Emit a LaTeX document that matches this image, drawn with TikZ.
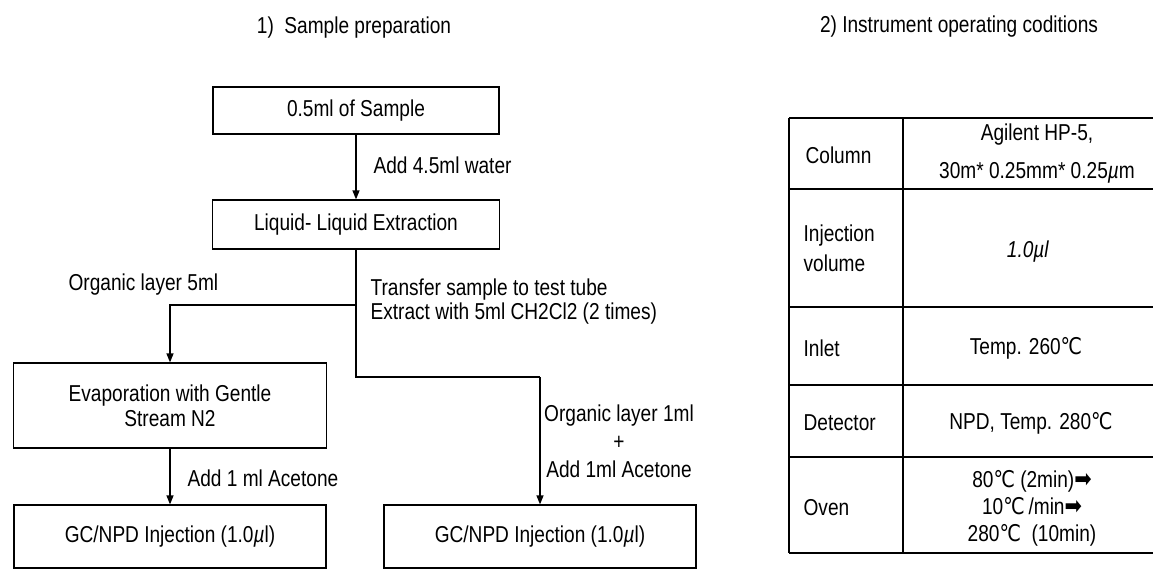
\documentclass[tikz,border=0pt]{standalone}
\usepackage{fontspec}
\setmainfont{Liberation Sans}[FakeStretch=0.83]
\newfontfamily\symf{DejaVu Sans}[FakeStretch=0.83]
\usetikzlibrary{arrows.meta}
\newcommand{\degC}{{\symf ℃}}
\newcommand{\harr}{{\symf\fontsize{25}{25}\selectfont ➡}}
\newcommand{\mul}{\textit{µ}}
\begin{document}
\begin{tikzpicture}[x=1pt,y=-1pt,line width=1.2pt,
  every node/.style={font=\fontsize{23}{24}\selectfont,inner sep=0pt},
  box/.style={draw,rectangle,line width=1.2pt},
  arr/.style={-{Triangle[length=9pt,width=7pt]}},
  tline/.style={line width=1.4pt}]
\useasboundingbox (0,0) rectangle (1153,570);
% titles
\node (t1) at (354,28) {1)\ \ Sample preparation};
\node (t2) at (959,27) {2) Instrument operating coditions};
% flow boxes
\node[box,minimum width=286pt,minimum height=47pt] (A) at (356,110.5) {0.5ml of Sample};
\node[box,minimum width=287pt,minimum height=49pt] (B) at (356,224.5) {Liquid- Liquid Extraction};
\node[box,minimum width=313pt,minimum height=85pt,align=center,font=\fontsize{23}{25}\selectfont] (E) at (170,405.5) {Evaporation with Gentle\\Stream N2};
\node[box,minimum width=312pt,minimum height=63pt] (G1) at (170,536.5) {GC/NPD Injection (1.0\mul l)};
\node[box,minimum width=312pt,minimum height=63pt] (G2) at (540,536.5) {GC/NPD Injection (1.0\mul l)};
% labels
\node[anchor=west] (l1) at (373,165) {Add 4.5ml water};
\node[anchor=west] (l2) at (68,285) {Organic layer 5ml};
\node[anchor=west,align=left] (l3) at (370,302) {Transfer sample to test tube\\Extract with 5ml CH2Cl2 (2 times)};
\node[anchor=west] (l4) at (187,478) {Add 1 ml Acetone};
\node[align=center,font=\fontsize{23}{28}\selectfont] (l5) at (619,441) {Organic layer 1ml\\+\\Add 1ml Acetone};
% connectors
\coordinate (br1) at (356,305);
\coordinate (br1l) at (170,305);
\coordinate (br2) at (356,377);
\coordinate (br2r) at (540,377);
\draw[arr] (A.south) -- (B.north);
\draw (B.south) -- (br2) -- (br2r);
\draw[arr] (br2r) -- (G2.north);
\draw[arr] (br1) -- (br1l) -- (E.north);
\draw[arr] (E.south) -- (G1.north);
% table
\foreach \yy in {118,189,307,385,457,553} {\draw[tline] (789,\yy) -- (1160,\yy);}
\draw[tline] (789,118) -- (789,553);
\draw[tline] (903,118) -- (903,553);
\node[anchor=west] (c1) at (805,155) {Column};
\node[align=center,font=\fontsize{23}{38}\selectfont] (v1) at (1037,154) {Agilent HP-5,\\30m* 0.25mm* 0.25\mul m};
\node[anchor=west,align=left,font=\fontsize{23}{30}\selectfont] (c2) at (803,248) {Injection\\volume};
\node (v2) at (1028,252) {\textit{1.0µl}};
\node[anchor=west] (c3) at (803,348) {Inlet};
\node (v3) at (1026,348) {Temp. 260\degC};
\node[anchor=west] (c4) at (803,423) {Detector};
\node (v4) at (1031,423) {NPD, Temp. 280\degC};
\node[anchor=west] (c5) at (803,508) {Oven};
\node[align=center,font=\fontsize{23}{27}\selectfont] (v5) at (1032,508) {80\degC\ (2min)\harr\\10\degC\,/min\harr\\280\degC\ \ (10min)};
\end{tikzpicture}
\end{document}
